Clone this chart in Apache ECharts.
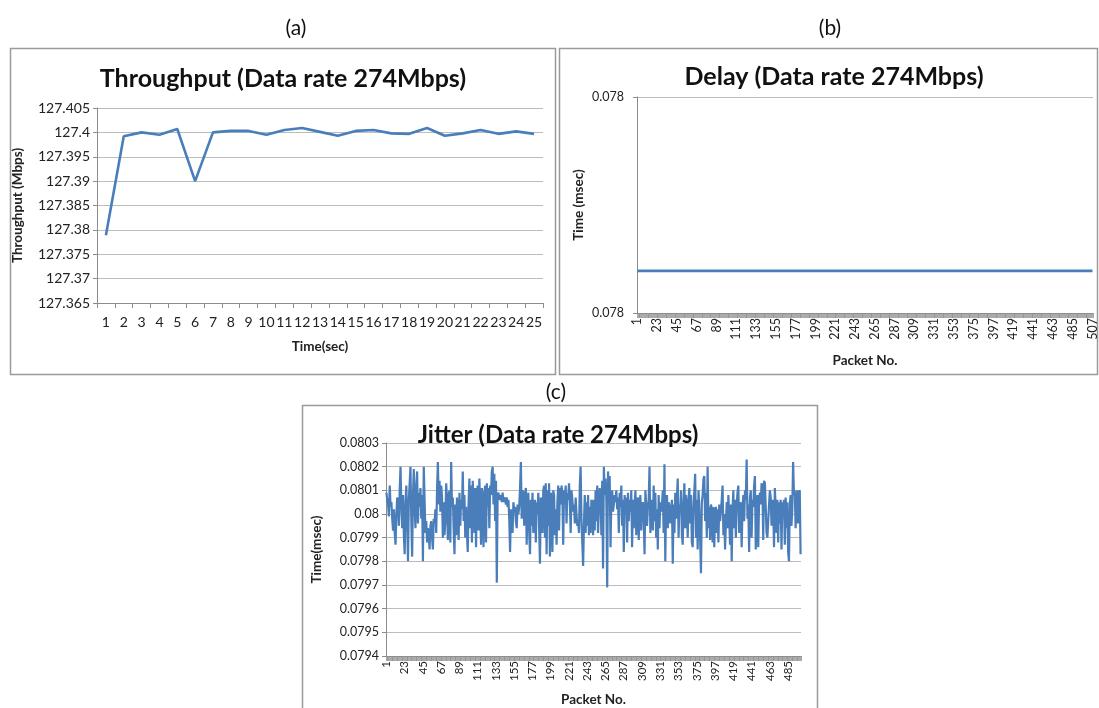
<!DOCTYPE html>
<html><head><meta charset="utf-8">
<script src="https://cdn.jsdelivr.net/npm/echarts@6/dist/echarts.min.js"></script>
<style>html,body{margin:0;padding:0;background:#fff}#c{width:1099px;height:708px}</style>
</head><body><div id="c"></div><script>
// ---- data ----
const timeLabels = ['1','2','3','4','5','6','7','8','9','10','11','12','13','14','15','16','17','18','19','20','21','22','23','24','25'];
const throughputValues = [127.3789,127.3992,127.4000,127.3995,127.4007,127.3900,127.4000,127.4003,127.4003,127.3995,127.4005,127.4009,127.4001,127.3993,127.4003,127.4005,127.3998,127.3997,127.4009,127.3993,127.3998,127.4005,127.3997,127.4002,127.3997];
const delayPacketCount = 507;
const delayLevel = 0.0780195;
const jitterValues = [
0.08009,0.08006,0.08004,0.07999,0.08012,0.08003,0.08005,0.07998,0.07993,0.08002,0.07992,0.07987,0.08000,0.08007,0.08004,0.07995,0.08010,0.08020,0.08003,0.07994,
0.08008,0.07991,0.07983,0.08005,0.08012,0.07996,0.07980,0.08006,0.08013,0.08020,0.07997,0.07982,0.08008,0.08019,0.08002,0.07994,0.08012,0.08018,0.07996,0.08009,
0.08003,0.08011,0.07998,0.08008,0.07980,0.08020,0.08006,0.07992,0.07997,0.07988,0.07994,0.07991,0.07985,0.07995,0.07997,0.07990,0.07985,0.07998,0.07996,0.08002,
0.07992,0.08010,0.08022,0.08004,0.08014,0.08001,0.08012,0.08007,0.07990,0.08005,0.07991,0.07997,0.08013,0.08006,0.07989,0.08008,0.08010,0.07988,0.08022,0.08003,
0.08007,0.07994,0.07983,0.08004,0.07991,0.08007,0.08000,0.07989,0.08009,0.07995,0.08006,0.08002,0.08018,0.07997,0.08008,0.07990,0.08003,0.07992,0.07984,0.08005,
0.08015,0.07994,0.08012,0.07988,0.08014,0.08003,0.07992,0.08011,0.07986,0.08008,0.08012,0.07993,0.08015,0.08001,0.07987,0.08011,0.08006,0.07986,0.08009,0.08012,
0.07988,0.08013,0.08003,0.08011,0.07994,0.08012,0.08008,0.08018,0.08020,0.08004,0.08017,0.07997,0.08014,0.07971,0.08008,0.08009,0.08006,0.08007,0.08008,0.08005,
0.08009,0.08005,0.08007,0.08006,0.08004,0.08007,0.08003,0.08006,0.07998,0.07984,0.08002,0.07996,0.07992,0.08005,0.08001,0.08003,0.07997,0.07994,0.08004,0.08000,
0.08003,0.08011,0.08022,0.07998,0.08010,0.08009,0.07995,0.08008,0.08011,0.07987,0.08004,0.08009,0.07993,0.07983,0.08006,0.07995,0.08009,0.07992,0.08001,0.08006,
0.07988,0.08005,0.08000,0.08009,0.07994,0.07979,0.08007,0.08002,0.07992,0.08010,0.08012,0.07990,0.08013,0.07983,0.08010,0.07995,0.08013,0.07982,0.08009,0.08004,
0.07984,0.08010,0.08008,0.07991,0.08002,0.07987,0.08005,0.08012,0.07993,0.08011,0.08004,0.08012,0.08008,0.07987,0.08010,0.08007,0.08012,0.07996,0.08009,0.08006,
0.08013,0.08005,0.07992,0.08010,0.08006,0.08001,0.08004,0.07996,0.08007,0.08000,0.07995,0.07997,0.07992,0.08012,0.08020,0.07997,0.07988,0.07978,0.07996,0.08008,
0.07992,0.08005,0.07995,0.08008,0.07991,0.08003,0.07992,0.08006,0.08004,0.07991,0.08006,0.07993,0.08010,0.07997,0.08012,0.07992,0.08004,0.08011,0.08006,0.07991,
0.08014,0.07977,0.08020,0.08008,0.08015,0.08006,0.07969,0.08018,0.08009,0.08016,0.07986,0.08006,0.08010,0.08001,0.08004,0.08008,0.08005,0.08010,0.08002,0.08007,
0.07992,0.08009,0.08003,0.08012,0.07995,0.08006,0.07984,0.08008,0.08000,0.08007,0.07988,0.08009,0.07997,0.08006,0.08001,0.08010,0.07986,0.08006,0.07994,0.08004,
0.08010,0.07991,0.08002,0.08007,0.07989,0.08004,0.08008,0.07993,0.08003,0.08005,0.07998,0.07983,0.08010,0.08004,0.07995,0.08003,0.08006,0.08020,0.07992,0.08004,
0.08006,0.07993,0.08012,0.07997,0.08009,0.07990,0.08002,0.07985,0.08008,0.07994,0.08005,0.08001,0.08004,0.08010,0.07992,0.08021,0.07980,0.08006,0.08008,0.07994,
0.08005,0.08003,0.07996,0.08002,0.08006,0.07979,0.08004,0.07992,0.08009,0.07998,0.08007,0.08015,0.07990,0.08004,0.08001,0.08010,0.07991,0.07987,0.08005,0.08013,
0.07994,0.08008,0.08002,0.07990,0.08006,0.08011,0.07996,0.08008,0.07988,0.07986,0.08003,0.08010,0.08017,0.07990,0.08006,0.07985,0.08010,0.08002,0.07989,0.07975,
0.08005,0.08008,0.08015,0.08016,0.07997,0.08009,0.07990,0.08020,0.07994,0.08003,0.07989,0.08004,0.08002,0.07988,0.08003,0.07986,0.08001,0.08003,0.07992,0.08002,
0.07988,0.08004,0.07997,0.08001,0.08006,0.08012,0.07991,0.08000,0.07985,0.07996,0.08005,0.07994,0.08008,0.07998,0.07987,0.08004,0.07980,0.08002,0.08010,0.07994,
0.08006,0.07990,0.08004,0.08009,0.08012,0.07992,0.07997,0.08005,0.07986,0.08002,0.08008,0.07997,0.08010,0.08006,0.08023,0.07998,0.08004,0.07984,0.08007,0.08010,
0.07990,0.08006,0.08003,0.08012,0.08016,0.07985,0.07999,0.08008,0.07986,0.08006,0.08009,0.08004,0.08013,0.08011,0.07989,0.08014,0.08013,0.08003,0.07992,0.07990,
0.07990,0.08004,0.08010,0.08007,0.07995,0.08006,0.08003,0.07986,0.08011,0.08002,0.07992,0.08006,0.07988,0.08005,0.07996,0.08006,0.07985,0.08005,0.08000,0.08006,
0.07987,0.08007,0.07994,0.08005,0.07984,0.07980,0.08004,0.08008,0.07995,0.08002,0.08022,0.08008,0.08010,0.07994,0.08003,0.08010,0.07996,0.08009,0.08010,0.07983
];
const throughputTicks = {min:127.365, max:127.405, step:0.005};
const delayTicks = {min:0.0780, max:0.0781, step:0.0001};
const jitterTicks = {min:0.0794, max:0.0803, step:0.0001};

// ---- build ----
const delayPackets = Array.from({length: delayPacketCount}, (_, i) => String(i + 1));
const delayValues = delayPackets.map(() => delayLevel);
const jitterPackets = jitterValues.map((_, i) => String(i + 1));

const FONT = 'Lato, "Open Sans", sans-serif';
const gridColor = '#bcbcbc';
const axisColor = '#8c8c8c';
const lineColor = '#4a7ebb';
const txt = '#222';

function catAxis(gi, data, opt, tick) {
  return Object.assign({
    type: 'category', gridIndex: gi, data: data, boundaryGap: true,
    axisLine: {lineStyle: {color: axisColor, width: 1}},
    axisTick: Object.assign({show: true, interval: 0, length: 5, lineStyle: {color: axisColor}}, tick || {}),
    nameLocation: 'middle',
    nameTextStyle: {fontFamily: FONT, fontWeight: 'bold', fontSize: 13.5, color: txt}
  }, opt);
}
function valAxis(gi, t, dec, opt) {
  return Object.assign({
    type: 'value', gridIndex: gi, min: t.min, max: t.max, interval: t.step,
    axisLine: {show: true, lineStyle: {color: axisColor}},
    axisTick: {show: true, length: 4, lineStyle: {color: axisColor}},
    splitLine: {lineStyle: {color: gridColor, width: 1}},
    nameLocation: 'middle',
    nameTextStyle: {fontFamily: FONT, fontWeight: 'bold', fontSize: 13.5, color: txt}
  }, opt, {axisLabel: Object.assign({formatter: v => String(+(+v).toFixed(dec)), fontFamily: FONT, color: txt}, opt.axisLabel)});
}

const denseTick = {length: 5, lineStyle: {color: '#8f8f8f', width: 0.75}};

const option = {
  backgroundColor: '#ffffff',
  animation: false,
  grid: [
    {left: 97, top: 108, width: 446, height: 195},
    {left: 637, top: 97, width: 456, height: 216},
    {left: 386, top: 443, width: 415, height: 214}
  ],
  xAxis: [
    catAxis(0, timeLabels, {name: 'Time(sec)', nameGap: 37,
      axisLabel: {interval: 0, fontFamily: FONT, fontSize: 14, color: txt, margin: 12}}),
    catAxis(1, delayPackets, {name: 'Packet No.', nameGap: 41,
      axisLabel: {interval: 21, rotate: 90, fontFamily: FONT, fontSize: 12.5, color: txt, margin: 5}}, denseTick),
    catAxis(2, jitterPackets, {name: 'Packet No.', nameGap: 37,
      axisLabel: {interval: 21, rotate: 90, fontFamily: FONT, fontSize: 11.5, color: txt, margin: 5}}, denseTick)
  ],
  yAxis: [
    valAxis(0, throughputTicks, 3, {name: 'Throughput (Mbps)', nameGap: 72,
      axisLabel: {fontSize: 14, margin: 7}}),
    valAxis(1, delayTicks, 3, {name: 'Time (msec)', nameGap: 51,
      axisLabel: {fontSize: 12.5, margin: 13}}),
    valAxis(2, jitterTicks, 4, {name: 'Time(msec)', nameGap: 62,
      axisLabel: {fontSize: 12.5, margin: 7}})
  ],
  series: [
    {type: 'line', xAxisIndex: 0, yAxisIndex: 0, data: throughputValues, showSymbol: false,
      lineStyle: {color: lineColor, width: 2.6}, itemStyle: {color: lineColor}},
    {type: 'line', xAxisIndex: 1, yAxisIndex: 1, data: delayValues, showSymbol: false,
      lineStyle: {color: lineColor, width: 2.6}, itemStyle: {color: lineColor}},
    {type: 'line', xAxisIndex: 2, yAxisIndex: 2, data: jitterValues, showSymbol: false,
      lineStyle: {color: lineColor, width: 2.2}, itemStyle: {color: lineColor}}
  ],
  graphic: [
    {type: 'rect', shape: {x: 10.5, y: 48.5, width: 545, height: 326}, style: {fill: 'none', stroke: '#9a9a9a', lineWidth: 1.5}, z: -1},
    {type: 'rect', shape: {x: 559.5, y: 48.5, width: 538, height: 326}, style: {fill: 'none', stroke: '#9a9a9a', lineWidth: 1.5}, z: -1},
    {type: 'rect', shape: {x: 302.5, y: 405.5, width: 515, height: 310}, style: {fill: 'none', stroke: '#9a9a9a', lineWidth: 1.5}, z: -1},
    {type: 'text', x: 296, y: 28, style: {text: '(a)', font: '21px ' + FONT, fill: '#111', textAlign: 'center', textVerticalAlign: 'middle'}},
    {type: 'text', x: 830, y: 28, style: {text: '(b)', font: '21px ' + FONT, fill: '#111', textAlign: 'center', textVerticalAlign: 'middle'}},
    {type: 'text', x: 556, y: 392, style: {text: '(c)', font: '21px ' + FONT, fill: '#111', textAlign: 'center', textVerticalAlign: 'middle'}},
    {type: 'text', x: 283, y: 79, style: {text: 'Throughput (Data rate 274Mbps)', font: 'bold 25px ' + FONT, fill: '#111', textAlign: 'center', textVerticalAlign: 'middle'}},
    {type: 'text', x: 834, y: 77, style: {text: 'Delay (Data rate 274Mbps)', font: 'bold 25px ' + FONT, fill: '#111', textAlign: 'center', textVerticalAlign: 'middle'}},
    {type: 'text', x: 558, y: 435, style: {text: 'Jitter (Data rate 274Mbps)', font: 'bold 24px ' + FONT, fill: '#111', textAlign: 'center', textVerticalAlign: 'middle'}, z: 10}
  ]
};
const chart = echarts.init(document.getElementById('c'), null, {renderer: 'canvas'});
chart.setOption(option);
</script></body></html>
